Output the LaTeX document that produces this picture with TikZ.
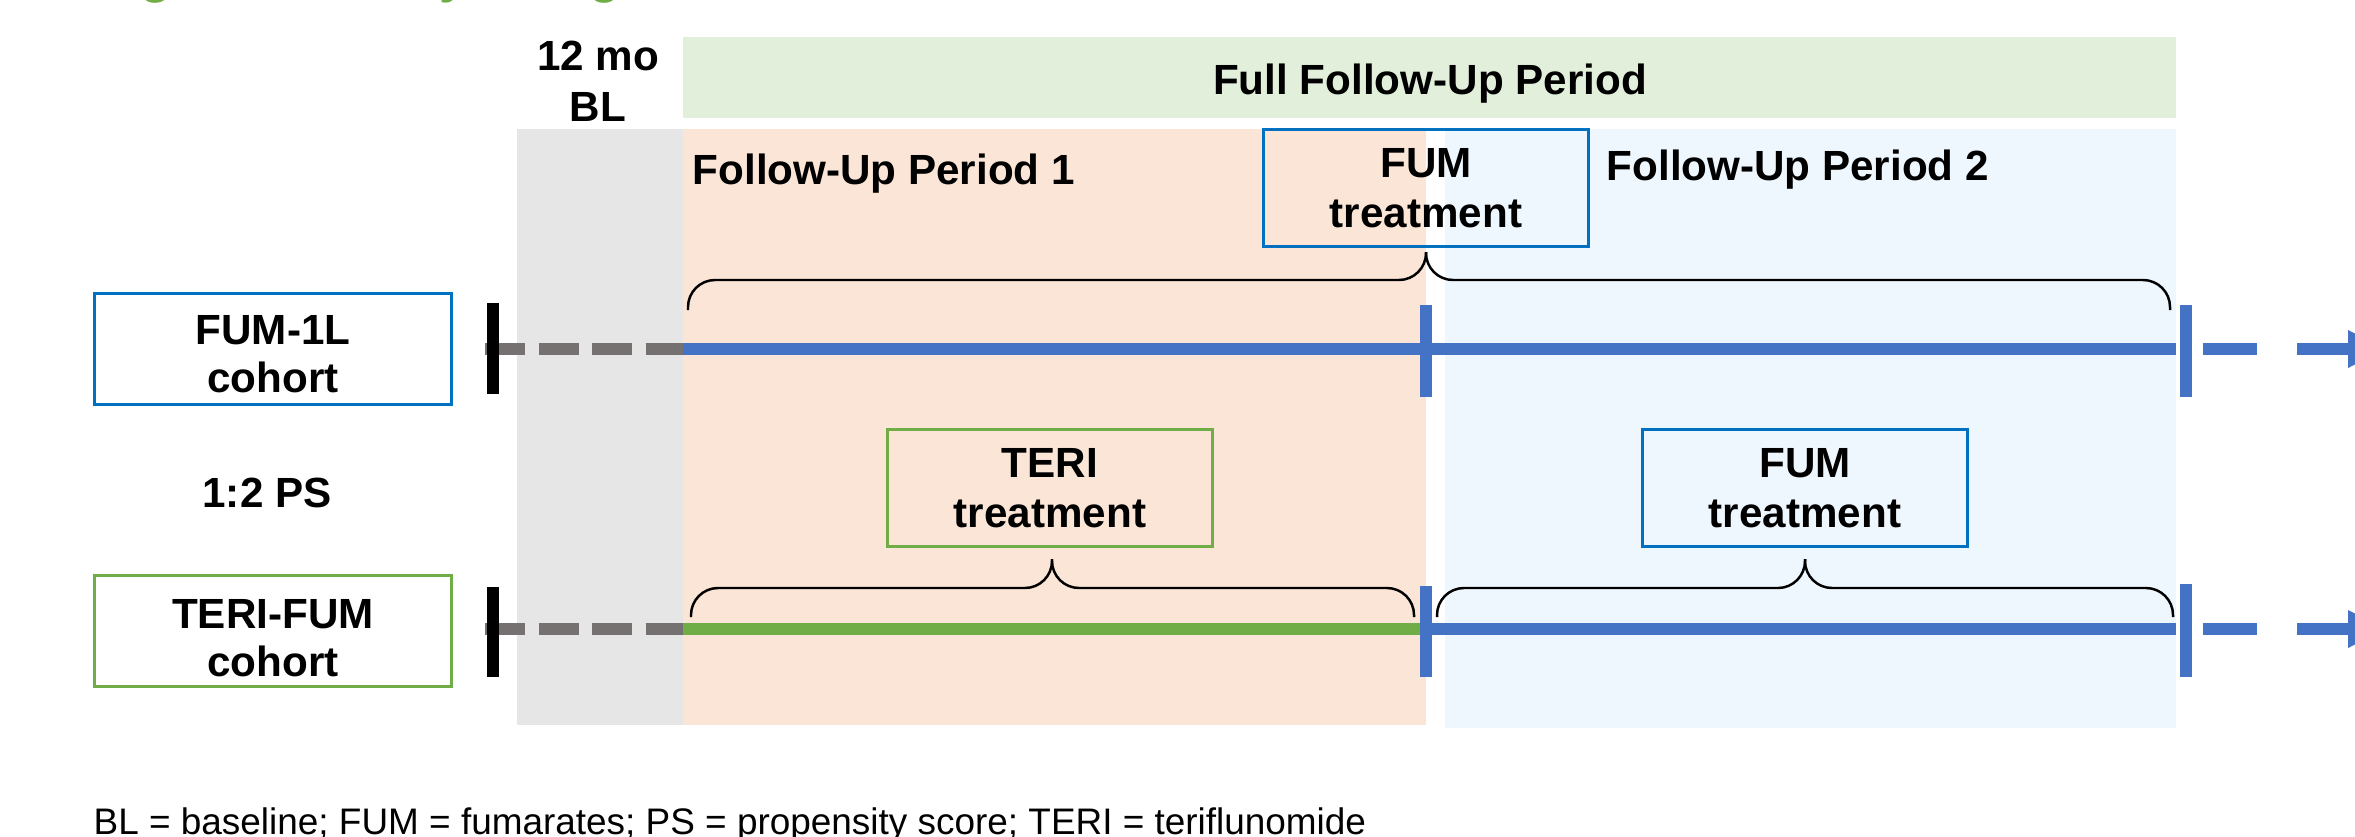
\documentclass[tikz,border=0pt]{standalone}
\usepackage{fontspec}
\setmainfont{Liberation Sans}
\usetikzlibrary{arrows.meta}
\definecolor{bggray}{HTML}{E7E6E6}
\definecolor{bgorange}{HTML}{FBE5D6}
\definecolor{bgblue}{HTML}{EFF7FE}
\definecolor{bggreen}{HTML}{E2EFDA}
\definecolor{lineblue}{HTML}{4472C4}
\definecolor{linegreen}{HTML}{70AD47}
\definecolor{linegray}{HTML}{767171}
\definecolor{boxblue}{HTML}{0070C0}
\definecolor{titlegreen}{HTML}{70AD47}
\begin{document}
\begin{tikzpicture}[x=0.01cm,y=-0.01cm,
  lbl/.style={font=\fontsize{12}{14.4}\selectfont\bfseries, align=center, inner sep=0pt},
  ctext/.style={font=\fontsize{12}{13.7}\selectfont\bfseries, align=center, inner sep=0pt},
  tbox/.style={lbl, draw, line width=0.85pt, minimum width=3.24cm, minimum height=1.16cm},
  cbox/.style={draw, line width=0.85pt, minimum width=3.57cm, minimum height=1.11cm, inner sep=0pt},
  tl/.style={line width=3.6pt},
  tickmark/.style={line width=3.6pt},
  brc/.style={line width=0.7pt, rounded corners=0.27cm},
  headtip/.style={fill=lineblue},
]
\useasboundingbox (0,0) rectangle (2355,836);
% backgrounds
\fill[bggray] (517,129) rectangle (683,725);
\fill[bgorange] (683,129) rectangle (1426,725);
\fill[bgblue] (1445,129) rectangle (2176,728);
\fill[bggreen] (683,37) rectangle (2176,118);
% title (cut off at top) and footnote (cut off at bottom)
\node[anchor=base west, inner sep=0pt, text=titlegreen, font=\fontsize{14.5}{17}\selectfont\bfseries] (title) at (94,-8) {Figure 1. Study Design};
\node[anchor=base west, inner sep=0pt, font=\fontsize{10.5}{12.6}\selectfont] (foot) at (93,834) {BL = baseline; FUM = fumarates; PS = propensity score; TERI = teriflunomide};
% braces
\draw[brc] (688,310) -- (688,280) -- (1426,280) -- (1426,252);
\draw[brc] (1426,252) -- (1426,280) -- (2170,280) -- (2170,310);
\draw[brc] (691,617) -- (691,588) -- (1052,588) -- (1052,559);
\draw[brc] (1052,559) -- (1052,588) -- (1414,588) -- (1414,617);
\draw[brc] (1437,617) -- (1437,588) -- (1805,588) -- (1805,559);
\draw[brc] (1805,559) -- (1805,588) -- (2173,588) -- (2173,617);
% upper timeline
\coordinate (u0) at (485,349);
\coordinate (u1) at (683,349);
\coordinate (u2) at (1426,349);
\coordinate (u3) at (2176,349);
\coordinate (u4) at (2203,349);
\coordinate (u5) at (2351,349);
\draw[linegray, tl, dash pattern=on 0.40cm off 0.135cm] (u0) -- (u1);
\draw[lineblue, tl] (u1) -- (u3);
\draw[lineblue, tl, dash pattern=on 0.54cm off 0.40cm] (u4) -- (u5);
\fill[headtip] (2348,330) -- (2385,349) -- (2348,368) -- cycle;
\draw[black, tickmark] (493,303) -- (493,394);
\draw[lineblue, tickmark] (1426,305) -- (1426,397);
\draw[lineblue, tickmark] (2186,305) -- (2186,397);
% lower timeline
\coordinate (l0) at (485,629);
\coordinate (l1) at (683,629);
\coordinate (l2) at (1426,629);
\coordinate (l3) at (2176,629);
\coordinate (l4) at (2203,629);
\coordinate (l5) at (2351,629);
\draw[linegray, tl, dash pattern=on 0.40cm off 0.135cm] (l0) -- (l1);
\draw[linegreen, tl] (l1) -- (l2);
\draw[lineblue, tl] (l2) -- (l3);
\draw[lineblue, tl, dash pattern=on 0.54cm off 0.40cm] (l4) -- (l5);
\fill[headtip] (2348,610) -- (2385,629) -- (2348,648) -- cycle;
\draw[black, tickmark] (493,587) -- (493,677);
\draw[lineblue, tickmark] (1426,586) -- (1426,677);
\draw[lineblue, tickmark] (2186,584) -- (2186,677);
% boxes
\node[cbox, draw=boxblue] (fum1l) at (273,349) {};
\node[ctext] (fum1ltext) at (273,354) {FUM-1L\\cohort};
\node[cbox, draw=linegreen] (terifum) at (273,631) {};
\node[ctext] (terifumtext) at (273,638) {TERI-FUM\\cohort};
\node[tbox, draw=boxblue] (fumtop) at (1426,188) {FUM\\treatment};
\node[tbox, draw=linegreen] (teri) at (1050,488) {TERI\\treatment};
\node[tbox, draw=boxblue] (fumlow) at (1805,488) {FUM\\treatment};
% labels
\node[lbl] (bl) at (598,81) {12 mo\\BL};
\node[lbl, anchor=base] (full) at (1430,94) {Full Follow-Up Period};
\node[lbl, anchor=base west] (fp1) at (692,184) {Follow-Up Period 1};
\node[lbl, anchor=base west] (fp2) at (1606,180) {Follow-Up Period 2};
\node[lbl] (ps) at (267,493) {1:2 PS};
\end{tikzpicture}
\end{document}
